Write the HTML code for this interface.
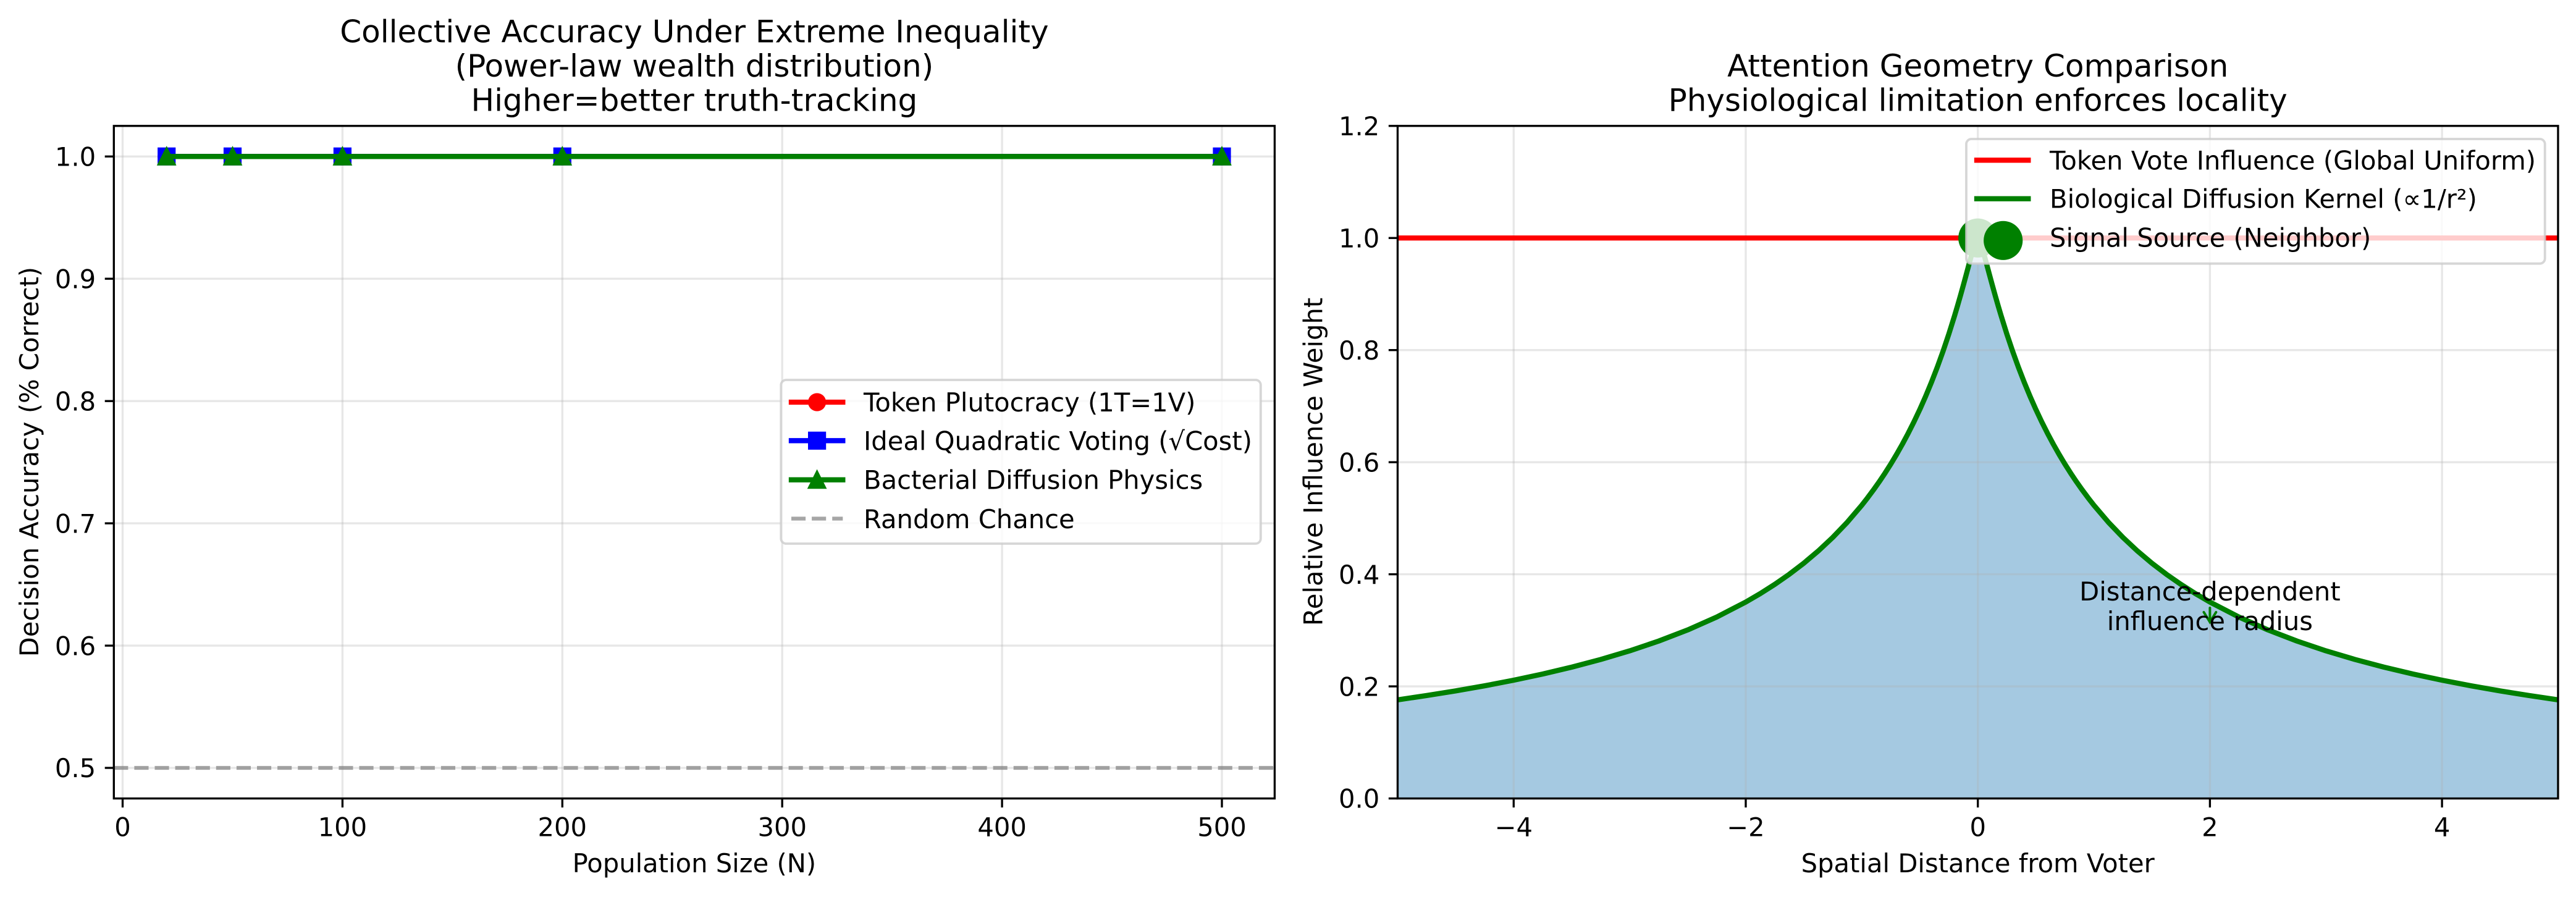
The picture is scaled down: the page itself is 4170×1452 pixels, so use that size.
<!DOCTYPE html>
<html>
<head>
<meta charset="utf-8">
<style>
html,body{margin:0;padding:0;background:#fff;}
svg{display:block;}
text{font-family:"DejaVu Sans","Liberation Sans",sans-serif;fill:#000;}
</style>
</head>
<body>
<svg width="4170" height="1452" viewBox="0 0 4170 1452" xmlns="http://www.w3.org/2000/svg">
<defs>
  <clipPath id="cl"><rect x="184.3" y="203.8" width="1879.1" height="1088.7"/></clipPath>
  <clipPath id="cr"><rect x="2262.45" y="203.8" width="1878.5" height="1088.7"/></clipPath>
</defs>
<rect x="0" y="0" width="4170" height="1452" fill="#fff"/>

<!-- ================= LEFT PLOT ================= -->
<g clip-path="url(#cl)">
  <g stroke="#b0b0b0" stroke-opacity="0.3" stroke-width="3.33">
    <line x1="198.5" y1="203.8" x2="198.5" y2="1292.5"/>
    <line x1="554.4" y1="203.8" x2="554.4" y2="1292.5"/>
    <line x1="910.3" y1="203.8" x2="910.3" y2="1292.5"/>
    <line x1="1266.2" y1="203.8" x2="1266.2" y2="1292.5"/>
    <line x1="1622.1" y1="203.8" x2="1622.1" y2="1292.5"/>
    <line x1="1978.0" y1="203.8" x2="1978.0" y2="1292.5"/>
    <line x1="184.3" y1="253.3" x2="2063.4" y2="253.3"/>
    <line x1="184.3" y1="451.2" x2="2063.4" y2="451.2"/>
    <line x1="184.3" y1="649.2" x2="2063.4" y2="649.2"/>
    <line x1="184.3" y1="847.1" x2="2063.4" y2="847.1"/>
    <line x1="184.3" y1="1045.1" x2="2063.4" y2="1045.1"/>
    <line x1="184.3" y1="1243" x2="2063.4" y2="1243"/>
  </g>
  <!-- red series -->
  <line x1="269.7" y1="253.3" x2="1978" y2="253.3" stroke="#ff0000" stroke-width="8.33" stroke-linecap="square"/>
  <g fill="#ff0000">
    <circle cx="269.7" cy="253.3" r="14.6"/><circle cx="376.5" cy="253.3" r="14.6"/><circle cx="554.4" cy="253.3" r="14.6"/><circle cx="910.3" cy="253.3" r="14.6"/><circle cx="1978" cy="253.3" r="14.6"/>
  </g>
  <!-- blue series -->
  <line x1="269.7" y1="253.3" x2="1978" y2="253.3" stroke="#0000ff" stroke-width="8.33" stroke-linecap="square"/>
  <g fill="#0000ff">
    <rect x="255.1" y="238.7" width="29.2" height="29.2"/><rect x="361.9" y="238.7" width="29.2" height="29.2"/><rect x="539.8" y="238.7" width="29.2" height="29.2"/><rect x="895.7" y="238.7" width="29.2" height="29.2"/><rect x="1963.4" y="238.7" width="29.2" height="29.2"/>
  </g>
  <!-- green series -->
  <line x1="269.7" y1="253.3" x2="1978" y2="253.3" stroke="#008000" stroke-width="8.33" stroke-linecap="square"/>
  <g fill="#008000" stroke="#008000" stroke-width="4.17" stroke-linejoin="miter">
    <polygon points="269.7,240.8 257.2,265.8 282.2,265.8"/>
    <polygon points="376.5,240.8 364,265.8 389,265.8"/>
    <polygon points="554.4,240.8 541.9,265.8 566.9,265.8"/>
    <polygon points="910.3,240.8 897.8,265.8 922.8,265.8"/>
    <polygon points="1978,240.8 1965.5,265.8 1990.5,265.8"/>
  </g>
  <!-- random chance -->
  <line x1="184.3" y1="1243" x2="2063.4" y2="1243" stroke="#808080" stroke-opacity="0.7" stroke-width="6.25" stroke-dasharray="23.1 10"/>
</g>
<!-- left spines -->
<rect x="184.3" y="203.8" width="1879.1" height="1088.7" fill="none" stroke="#000" stroke-width="3.33" stroke-linejoin="miter"/>
<!-- left ticks -->
<g stroke="#000" stroke-width="3.33">
  <line x1="198.5" y1="1292.5" x2="198.5" y2="1307.1"/>
  <line x1="554.4" y1="1292.5" x2="554.4" y2="1307.1"/>
  <line x1="910.3" y1="1292.5" x2="910.3" y2="1307.1"/>
  <line x1="1266.2" y1="1292.5" x2="1266.2" y2="1307.1"/>
  <line x1="1622.1" y1="1292.5" x2="1622.1" y2="1307.1"/>
  <line x1="1978.0" y1="1292.5" x2="1978.0" y2="1307.1"/>
  <line x1="169.7" y1="253.3" x2="184.3" y2="253.3"/>
  <line x1="169.7" y1="451.2" x2="184.3" y2="451.2"/>
  <line x1="169.7" y1="649.2" x2="184.3" y2="649.2"/>
  <line x1="169.7" y1="847.1" x2="184.3" y2="847.1"/>
  <line x1="169.7" y1="1045.1" x2="184.3" y2="1045.1"/>
  <line x1="169.7" y1="1243" x2="184.3" y2="1243"/>
</g>
<g font-size="41.67" text-anchor="middle">
  <text x="198.5" y="1353.5">0</text>
  <text x="554.4" y="1353.5">100</text>
  <text x="910.3" y="1353.5">200</text>
  <text x="1266.2" y="1353.5">300</text>
  <text x="1622.1" y="1353.5">400</text>
  <text x="1978.0" y="1353.5">500</text>
</g>
<g font-size="41.67" text-anchor="end">
  <text x="155.1" y="268.5">1.0</text>
  <text x="155.1" y="466.4">0.9</text>
  <text x="155.1" y="664.4">0.8</text>
  <text x="155.1" y="862.3">0.7</text>
  <text x="155.1" y="1060.3">0.6</text>
  <text x="155.1" y="1258.2">0.5</text>
</g>
<text x="1123.9" y="1412" font-size="41.67" text-anchor="middle">Population Size (N)</text>
<text transform="translate(62,747.5) rotate(-90)" x="0" y="0" font-size="41.67" text-anchor="middle">Decision Accuracy (% Correct)</text>
<g font-size="50" text-anchor="middle">
  <text x="1123.9" y="68.3">Collective Accuracy Under Extreme Inequality</text>
  <text x="1123.9" y="124">(Power-law wealth distribution)</text>
  <text x="1123.9" y="179.5">Higher=better truth-tracking</text>
</g>
<!-- left legend -->
<rect x="1264.3" y="615" width="776.5" height="265" rx="8.3" ry="8.3" fill="#fff" fill-opacity="0.8" stroke="#cccccc" stroke-opacity="0.8" stroke-width="3.8"/>
<line x1="1281" y1="651" x2="1364.3" y2="651" stroke="#ff0000" stroke-width="8.33" stroke-linecap="square"/>
<circle cx="1322.6" cy="651" r="14.6" fill="#ff0000"/>
<line x1="1281" y1="713.3" x2="1364.3" y2="713.3" stroke="#0000ff" stroke-width="8.33" stroke-linecap="square"/>
<rect x="1308" y="698.7" width="29.2" height="29.2" fill="#0000ff"/>
<line x1="1281" y1="776.7" x2="1364.3" y2="776.7" stroke="#008000" stroke-width="8.33" stroke-linecap="square"/>
<polygon points="1322.6,764.2 1310.1,789.2 1335.1,789.2" fill="#008000" stroke="#008000" stroke-width="4.17"/>
<line x1="1281" y1="839.5" x2="1364.3" y2="839.5" stroke="#808080" stroke-opacity="0.7" stroke-width="6.25" stroke-dasharray="23.1 10"/>
<g font-size="41.67">
  <text x="1398" y="666">Token Plutocracy (1T=1V)</text>
  <text x="1398" y="728.3">Ideal Quadratic Voting (√Cost)</text>
  <text x="1398" y="791.7">Bacterial Diffusion Physics</text>
  <text x="1398" y="855">Random Chance</text>
</g>

<!-- ================= RIGHT PLOT ================= -->
<g clip-path="url(#cr)">
  <g transform="matrix(187.85 0 0 -907.25 3201.7 1292.5)">
    <path fill="#1f77b4" fill-opacity="0.4" d="M-5,0 L-5,0.17599 L-4.75,0.18361 L-4.5,0.19191 L-4.25,0.201 L-4,0.21101 L-3.75,0.22205 L-3.5,0.23431 L-3.25,0.24801 L-3,0.26341 L-2.75,0.28085 L-2.5,0.30075 L-2.25,0.3237 L-2,0.35044 L-1.875,0.36553 L-1.75,0.38198 L-1.625,0.39999 L-1.5,0.41977 L-1.375,0.4416 L-1.25,0.46584 L-1.125,0.49289 L-1,0.52325 L-0.95,0.53648 L-0.9,0.55039 L-0.85,0.56502 L-0.8,0.58045 L-0.75,0.59676 L-0.7,0.614 L-0.65,0.63226 L-0.6,0.65163 L-0.55,0.67221 L-0.5,0.69413 L-0.45,0.71749 L-0.4,0.74247 L-0.35,0.76921 L-0.3,0.79787 L-0.25,0.82864 L-0.2,0.86169 L-0.175,0.8791 L-0.15,0.89712 L-0.125,0.91568 L-0.1,0.93471 L-0.075,0.954 L-0.05,0.97301 L-0.025,0.99027 L0,1 L0.025,0.99027 L0.05,0.97301 L0.075,0.954 L0.1,0.93471 L0.125,0.91568 L0.15,0.89712 L0.175,0.8791 L0.2,0.86169 L0.25,0.82864 L0.3,0.79787 L0.35,0.76921 L0.4,0.74247 L0.45,0.71749 L0.5,0.69413 L0.55,0.67221 L0.6,0.65163 L0.65,0.63226 L0.7,0.614 L0.75,0.59676 L0.8,0.58045 L0.85,0.56502 L0.9,0.55039 L0.95,0.53648 L1,0.52325 L1.125,0.49289 L1.25,0.46584 L1.375,0.4416 L1.5,0.41977 L1.625,0.39999 L1.75,0.38198 L1.875,0.36553 L2,0.35044 L2.25,0.3237 L2.5,0.30075 L2.75,0.28085 L3,0.26341 L3.25,0.24801 L3.5,0.23431 L3.75,0.22205 L4,0.21101 L4.25,0.201 L4.5,0.19191 L4.75,0.18361 L5,0.17599 L5,0 Z"/>
  </g>
  <g stroke="#b0b0b0" stroke-opacity="0.3" stroke-width="3.33">
    <line x1="2450.3" y1="203.8" x2="2450.3" y2="1292.5"/>
    <line x1="2826.0" y1="203.8" x2="2826.0" y2="1292.5"/>
    <line x1="3201.7" y1="203.8" x2="3201.7" y2="1292.5"/>
    <line x1="3577.4" y1="203.8" x2="3577.4" y2="1292.5"/>
    <line x1="3953.1" y1="203.8" x2="3953.1" y2="1292.5"/>
    <line x1="2262.45" y1="1111.05" x2="4140.95" y2="1111.05"/>
    <line x1="2262.45" y1="929.6" x2="4140.95" y2="929.6"/>
    <line x1="2262.45" y1="748.15" x2="4140.95" y2="748.15"/>
    <line x1="2262.45" y1="566.7" x2="4140.95" y2="566.7"/>
    <line x1="2262.45" y1="385.25" x2="4140.95" y2="385.25"/>
  </g>
  <line x1="2262.45" y1="385.25" x2="4140.95" y2="385.25" stroke="#ff0000" stroke-width="8.33" stroke-linecap="square"/>
  <g transform="matrix(187.85 0 0 -907.25 3201.7 1292.5)">
    <path fill="none" stroke="#008000" stroke-width="8.33" stroke-linejoin="round" vector-effect="non-scaling-stroke" d="M-5,0.17599 L-4.75,0.18361 L-4.5,0.19191 L-4.25,0.201 L-4,0.21101 L-3.75,0.22205 L-3.5,0.23431 L-3.25,0.24801 L-3,0.26341 L-2.75,0.28085 L-2.5,0.30075 L-2.25,0.3237 L-2,0.35044 L-1.875,0.36553 L-1.75,0.38198 L-1.625,0.39999 L-1.5,0.41977 L-1.375,0.4416 L-1.25,0.46584 L-1.125,0.49289 L-1,0.52325 L-0.95,0.53648 L-0.9,0.55039 L-0.85,0.56502 L-0.8,0.58045 L-0.75,0.59676 L-0.7,0.614 L-0.65,0.63226 L-0.6,0.65163 L-0.55,0.67221 L-0.5,0.69413 L-0.45,0.71749 L-0.4,0.74247 L-0.35,0.76921 L-0.3,0.79787 L-0.25,0.82864 L-0.2,0.86169 L-0.175,0.8791 L-0.15,0.89712 L-0.125,0.91568 L-0.1,0.93471 L-0.075,0.954 L-0.05,0.97301 L-0.025,0.99027 L0,1 L0.025,0.99027 L0.05,0.97301 L0.075,0.954 L0.1,0.93471 L0.125,0.91568 L0.15,0.89712 L0.175,0.8791 L0.2,0.86169 L0.25,0.82864 L0.3,0.79787 L0.35,0.76921 L0.4,0.74247 L0.45,0.71749 L0.5,0.69413 L0.55,0.67221 L0.6,0.65163 L0.65,0.63226 L0.7,0.614 L0.75,0.59676 L0.8,0.58045 L0.85,0.56502 L0.9,0.55039 L0.95,0.53648 L1,0.52325 L1.125,0.49289 L1.25,0.46584 L1.375,0.4416 L1.5,0.41977 L1.625,0.39999 L1.75,0.38198 L1.875,0.36553 L2,0.35044 L2.25,0.3237 L2.5,0.30075 L2.75,0.28085 L3,0.26341 L3.25,0.24801 L3.5,0.23431 L3.75,0.22205 L4,0.21101 L4.25,0.201 L4.5,0.19191 L4.75,0.18361 L5,0.17599"/>
  </g>
  <circle cx="3201.7" cy="385.25" r="31.6" fill="#008000"/>
  <!-- annotation arrow -->
  <g stroke="#008000" stroke-width="4" fill="none" stroke-linecap="round">
    <line x1="3577.4" y1="984" x2="3577.4" y2="1007"/>
    <polyline points="3567.5,991 3577.4,1007 3587.3,991"/>
  </g>
  <g font-size="41.67" text-anchor="middle">
    <text x="3577.4" y="972">Distance-dependent</text>
    <text x="3577.4" y="1020">influence radius</text>
  </g>
</g>
<!-- right spines -->
<rect x="2262.45" y="203.8" width="1878.5" height="1088.7" fill="none" stroke="#000" stroke-width="3.33"/>
<g stroke="#000" stroke-width="3.33">
  <line x1="2450.3" y1="1292.5" x2="2450.3" y2="1307.1"/>
  <line x1="2826.0" y1="1292.5" x2="2826.0" y2="1307.1"/>
  <line x1="3201.7" y1="1292.5" x2="3201.7" y2="1307.1"/>
  <line x1="3577.4" y1="1292.5" x2="3577.4" y2="1307.1"/>
  <line x1="3953.1" y1="1292.5" x2="3953.1" y2="1307.1"/>
  <line x1="2247.85" y1="1292.5" x2="2262.45" y2="1292.5"/>
  <line x1="2247.85" y1="1111.05" x2="2262.45" y2="1111.05"/>
  <line x1="2247.85" y1="929.6" x2="2262.45" y2="929.6"/>
  <line x1="2247.85" y1="748.15" x2="2262.45" y2="748.15"/>
  <line x1="2247.85" y1="566.7" x2="2262.45" y2="566.7"/>
  <line x1="2247.85" y1="385.25" x2="2262.45" y2="385.25"/>
  <line x1="2247.85" y1="203.8" x2="2262.45" y2="203.8"/>
</g>
<g font-size="41.67" text-anchor="middle">
  <text x="2450.3" y="1353.5">−4</text>
  <text x="2826.0" y="1353.5">−2</text>
  <text x="3201.7" y="1353.5">0</text>
  <text x="3577.4" y="1353.5">2</text>
  <text x="3953.1" y="1353.5">4</text>
</g>
<g font-size="41.67" text-anchor="end">
  <text x="2233.3" y="1307.7">0.0</text>
  <text x="2233.3" y="1126.25">0.2</text>
  <text x="2233.3" y="944.8">0.4</text>
  <text x="2233.3" y="763.35">0.6</text>
  <text x="2233.3" y="581.9">0.8</text>
  <text x="2233.3" y="400.45">1.0</text>
  <text x="2233.3" y="219">1.2</text>
</g>
<text x="3201.7" y="1412" font-size="41.67" text-anchor="middle">Spatial Distance from Voter</text>
<text transform="translate(2140.5,747.5) rotate(-90)" x="0" y="0" font-size="41.67" text-anchor="middle">Relative Influence Weight</text>
<g font-size="50" text-anchor="middle">
  <text x="3201.7" y="124">Attention Geometry Comparison</text>
  <text x="3201.7" y="179.5">Physiological limitation enforces locality</text>
</g>
<!-- right legend -->
<rect x="3183" y="225" width="936.7" height="201.7" rx="8.3" ry="8.3" fill="#fff" fill-opacity="0.8" stroke="#cccccc" stroke-opacity="0.8" stroke-width="3.8"/>
<line x1="3200" y1="259.3" x2="3283.3" y2="259.3" stroke="#ff0000" stroke-width="8.33" stroke-linecap="square"/>
<line x1="3200" y1="321.7" x2="3283.3" y2="321.7" stroke="#008000" stroke-width="8.33" stroke-linecap="square"/>
<circle cx="3242.7" cy="389.3" r="31.6" fill="#008000"/>
<g font-size="41.67">
  <text x="3318" y="274.5">Token Vote Influence (Global Uniform)</text>
  <text x="3318" y="336.7">Biological Diffusion Kernel (∝1/r²)</text>
  <text x="3318" y="399.5">Signal Source (Neighbor)</text>
</g>
</svg>
</body>
</html>
